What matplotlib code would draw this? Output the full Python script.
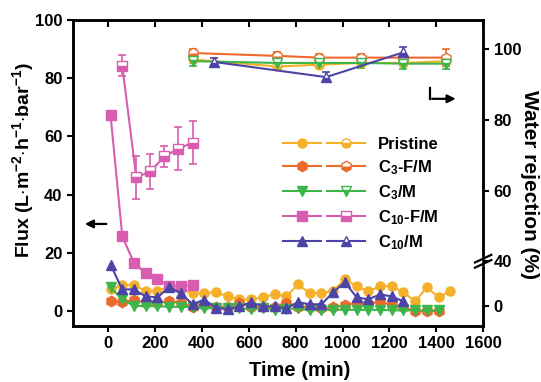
import numpy as np
import matplotlib
matplotlib.use("Agg")
import matplotlib.pyplot as plt
from matplotlib.legend_handler import HandlerTuple
from matplotlib.lines import Line2D

plt.rcParams['font.family'] = ['Liberation Sans', 'DejaVu Sans']
plt.rcParams['font.weight'] = 'bold'
plt.rcParams['mathtext.fontset'] = 'custom'
plt.rcParams['mathtext.rm'] = 'Liberation Sans:bold'
plt.rcParams['mathtext.bf'] = 'Liberation Sans:bold'
plt.rcParams['mathtext.default'] = 'bf'

# ---------------- data ----------------
time_long = [10, 60, 110, 160, 210, 260, 310, 360, 410, 460, 510, 560, 610, 660, 710,
             760, 810, 860, 910, 960, 1010, 1060, 1110, 1160, 1210, 1260, 1310, 1360, 1410, 1460]

flux_pristine = [7.5, 9.0, 9.0, 7.0, 7.0, 8.5, 7.5, 6.2, 6.2, 6.5, 5.1, 4.1, 4.1, 4.8, 5.8,
                 5.1, 9.2, 6.2, 6.2, 7.0, 11.0, 8.6, 6.8, 8.6, 8.6, 6.5, 3.4, 8.2, 4.8, 6.8]
flux_c3fm = [3.4, 3.1, 4.0, 3.0, 3.0, 3.4, 3.0, 1.4, 2.0, 1.5, 1.5, 3.0, 1.5, 1.5, 1.5,
             3.0, 1.5, 1.5, 1.0, 1.5, 2.0, 3.0, 2.5, 3.4, 2.0, 1.5, 0.0, 0.0, 0.0]
flux_c3m = [8.2, 4.1, 1.8, 1.8, 1.8, 1.5, 1.5, 1.5, 1.0, 1.2, 1.0, 1.0, 0.8, 1.0, 0.5,
            0.8, 1.0, 0.3, 0.5, 0.5, 0.5, 0.5, 0.5, 0.5, 0.3, 0.3, 0.3, 0.3, 0.3]
flux_c10fm = [67.5, 25.8, 16.6, 13.0, 11.0, 8.8, 8.8, 8.9]
flux_c10m = [16.0, 7.5, 7.5, 5.1, 4.8, 8.2, 6.2, 2.4, 4.0, 1.2, 0.7, 1.7, 3.1, 1.7, 1.7,
             1.0, 3.1, 2.4, 2.4, 6.5, 10.0, 4.8, 4.1, 5.8, 5.1, 3.4]

time_rej = [360, 720, 900, 1080, 1260, 1440]
rej_pristine = [97.0, 95.0, 95.5, 96.0, 96.0, 96.5]
err_pristine = [1.0, 1.0, 1.0, 1.5, 1.0, 1.5]
rej_c3fm = [98.8, 98.0, 97.5, 97.5, 97.5, 97.5]
err_c3fm = [1.0, 1.0, 1.0, 1.0, 1.0, 2.5]
rej_c3m = [96.5, 96.0, 96.0, 96.0, 95.8, 95.8]
err_c3m = [1.5, 2.0, 1.0, 1.5, 1.5, 1.5]
time_rej_c10m = [450, 930, 1260]
rej_c10m = [96.3, 92.0, 99.0]
err_c10m = [1.0, 1.5, 1.5]
time_rej_c10fm = [60, 120, 180, 240, 300, 360]
rej_c10fm = [95.2, 63.7, 65.4, 69.6, 71.8, 73.5]
err_c10fm = [3.0, 6.0, 5.0, 3.0, 6.0, 6.0]

labels = ['Pristine', r'C$_{3}$-F/M', r'C$_{3}$/M', r'C$_{10}$-F/M', r'C$_{10}$/M']
colors = ['#F5B02A', '#EC6A2C', '#3DB54A', '#D85DB0', '#4C44A6']
markers = ['o', 'h', 'v', 's', '^']

x_ticks = [0, 200, 400, 600, 800, 1000, 1200, 1400, 1600]
left_ticks = [0, 20, 40, 60, 80, 100]
right_ticks = [0, 40, 60, 80, 100]

# ---------------- figure ----------------
fig = plt.figure(figsize=(5.41, 3.82), dpi=100)
ax = fig.add_axes([0.135, 0.147, 0.758, 0.801])
ax2 = ax.twinx()

# piecewise (broken) right axis scale, mapped into left-axis units
def fwd(r):
    r = np.asarray(r, dtype=float)
    return np.where(r < 40, 1.71 + r * (15.41 / 40.0), 17.12 + (r - 40) * 1.216)

def inv(y):
    y = np.asarray(y, dtype=float)
    return np.where(y < 17.12, (y - 1.71) / (15.41 / 40.0), 40 + (y - 17.12) / 1.216)

ax2.set_yscale('function', functions=(fwd, inv))

flux_series = [(time_long, flux_pristine), (time_long[:29], flux_c3fm), (time_long[:29], flux_c3m),
               (time_long[:8], flux_c10fm), (time_long[:26], flux_c10m)]
rej_series = [(time_rej, rej_pristine, err_pristine), (time_rej, rej_c3fm, err_c3fm),
              (time_rej, rej_c3m, err_c3m), (time_rej_c10fm, rej_c10fm, err_c10fm),
              (time_rej_c10m, rej_c10m, err_c10m)]

handles = []
for i in range(5):
    t, f = flux_series[i]
    ms = 7.5 if markers[i] in ('h', 'v', '^') else 6.5
    l1, = ax.plot(t, f, color=colors[i], marker=markers[i], ms=ms, lw=1.5, mec=colors[i],
                  zorder=3 + i * 0.1)
    tr, rr, ee = rej_series[i]
    cont = ax2.errorbar(tr, rr, yerr=ee, color=colors[i], marker=markers[i], ms=ms, lw=1.5,
                        mec=colors[i], capsize=3, elinewidth=1.2, capthick=1.2)
    dl = cont.lines[0]
    dl.set_fillstyle('bottom')
    dl.set_markerfacecolor(colors[i])
    dl.set_markerfacecoloralt('white')
    l2 = Line2D([], [], color=colors[i], marker=markers[i], ms=ms, lw=1.5, mec=colors[i])
    l2.set_fillstyle('bottom')
    l2.set_markerfacecolor(colors[i])
    l2.set_markerfacecoloralt('white')
    handles.append((l1, l2))

ax.set_xlim(-150, 1600)
ax.set_ylim(-5, 100)
ax2.set_ylim(float(inv(-5)), float(inv(100)))

ax.set_xticks(x_ticks)
ax.set_yticks(left_ticks)
ax2.set_yticks(right_ticks)
ax2.set_yticklabels([str(v) for v in right_ticks])
ax2.minorticks_off()

for a in (ax, ax2):
    for s in a.spines.values():
        s.set_linewidth(1.8)
ax.tick_params(axis='both', labelsize=12, width=1.5, length=4, direction='out')
ax.tick_params(axis='x', top=True, which='major')
ax2.tick_params(axis='y', labelsize=12, width=1.5, length=4, direction='out')
for tk in ax.xaxis.get_major_ticks():
    tk.tick2line.set_marker(3)  # inward tick on top spine
    tk.tick2line.set_markersize(5)

for lab in ax.get_xticklabels() + ax.get_yticklabels() + ax2.get_yticklabels():
    lab.set_fontweight('bold')

fig.text(300 / 541, 1 - 371 / 382, 'Time (min)', ha='center', va='center',
         fontsize=14.5, fontweight='bold')
fig.text(23 / 541, 1 - 160 / 382, r'Flux (L$\cdot$m$^{-2}$$\cdot$h$^{-1}$$\cdot$bar$^{-1}$)',
         rotation=90, ha='center', va='center', fontsize=14, fontweight='bold')
fig.text(529 / 541, 1 - 185 / 382, 'Water rejection (%)', rotation=270, ha='center',
         va='center', fontsize=15, fontweight='bold')

# axis break marks on right spine
bk = dict(transform=ax.transAxes, clip_on=False, color='black', lw=1.6, zorder=10)
ax.fill_between([0.985, 1.015], [0.196, 0.196], [0.226, 0.226], color='white',
                transform=ax.transAxes, clip_on=False, zorder=9)
ax.plot([0.98, 1.02], [0.19, 0.215], **bk)
ax.plot([0.98, 1.02], [0.207, 0.232], **bk)

# direction arrows
ax.annotate('', xy=(0.022, 0.333), xytext=(0.088, 0.333), xycoords='axes fraction',
            arrowprops=dict(arrowstyle='-|>', color='black', lw=1.6, mutation_scale=12))
ax.plot([0.871, 0.871], [0.778, 0.742], color='black', lw=1.6, transform=ax.transAxes)
ax.annotate('', xy=(0.94, 0.742), xytext=(0.869, 0.742), xycoords='axes fraction',
            arrowprops=dict(arrowstyle='-|>', color='black', lw=1.6, mutation_scale=12))

leg = ax.legend(handles, labels, handler_map={tuple: HandlerTuple(ndivide=None, pad=0.35)},
                loc='upper left', bbox_to_anchor=(0.512, 0.617), frameon=False,
                fontsize=12, handlelength=4.9, handletextpad=0.8, labelspacing=0.37,
                borderpad=0, borderaxespad=0)
for tx in leg.get_texts():
    tx.set_fontweight('bold')

fig.savefig('out.png', dpi=100)
